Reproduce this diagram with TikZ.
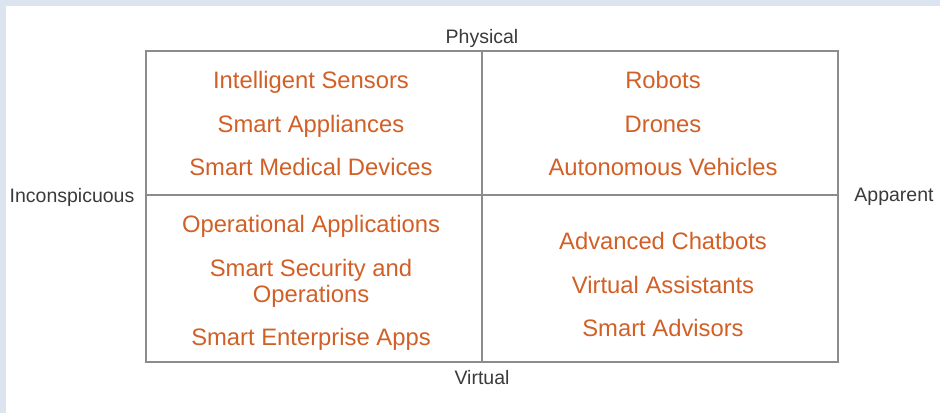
\documentclass[tikz,border=0pt]{standalone}
\usepackage{fontspec}
\setmainfont{Liberation Sans}
\definecolor{frameblue}{HTML}{DCE4F0}
\definecolor{itemorange}{HTML}{D26026}
\definecolor{axisgray}{HTML}{8C8C8C}
\definecolor{labelgray}{HTML}{3A3A3A}
\begin{document}
\begin{tikzpicture}[x=1pt,y=-1pt,
  item/.style={text=itemorange,font=\fontsize{23.8}{22.5}\selectfont,anchor=base,inner sep=0pt,align=center},
  axislabel/.style={text=labelgray,font=\fontsize{19.5}{22}\selectfont,anchor=base,inner sep=0pt},
  gridline/.style={draw=axisgray,line width=2pt}]
  % page background with light blue strips on top and left
  \fill[frameblue] (0,0) rectangle (940,413);
  \fill[white] (6,6) rectangle (940,413);
  \useasboundingbox (0,0) rectangle (940,413);

  % quadrant frame and dividers
  \coordinate (tl) at (146,51);
  \coordinate (br) at (838,362);
  \coordinate (top) at (482,51);
  \coordinate (bottom) at (482,362);
  \coordinate (left) at (146,195);
  \coordinate (right) at (838,195);
  \draw[gridline] (tl) rectangle (br);
  \draw[gridline] (top) -- (bottom);
  \draw[gridline] (left) -- (right);

  % axis labels
  \node[axislabel] (phys) at (482,43) {Physical};
  \node[axislabel] (virt) at (482,384) {Virtual};
  \node[axislabel] (inc) at (72,202) {Inconspicuous};
  \node[axislabel] (app) at (894,201) {Apparent};

  % top-left quadrant
  \node[item] (q1a) at (311,88) {Intelligent Sensors};
  \node[item] (q1b) at (311,132) {Smart Appliances};
  \node[item] (q1c) at (311,175) {Smart Medical Devices};

  % top-right quadrant
  \node[item] (q2a) at (663,88) {Robots};
  \node[item] (q2b) at (663,132) {Drones};
  \node[item] (q2c) at (663,175) {Autonomous Vehicles};

  % bottom-left quadrant
  \node[item] (q3a) at (311,232) {Operational Applications};
  \node[item] (q3b) at (311,276) {Smart Security and};
  \node[item] (q3c) at (311,302) {Operations};
  \node[item] (q3d) at (311,345) {Smart Enterprise Apps};

  % bottom-right quadrant
  \node[item] (q4a) at (663,249) {Advanced Chatbots};
  \node[item] (q4b) at (663,293) {Virtual Assistants};
  \node[item] (q4c) at (663,336) {Smart Advisors};
\end{tikzpicture}
\end{document}
